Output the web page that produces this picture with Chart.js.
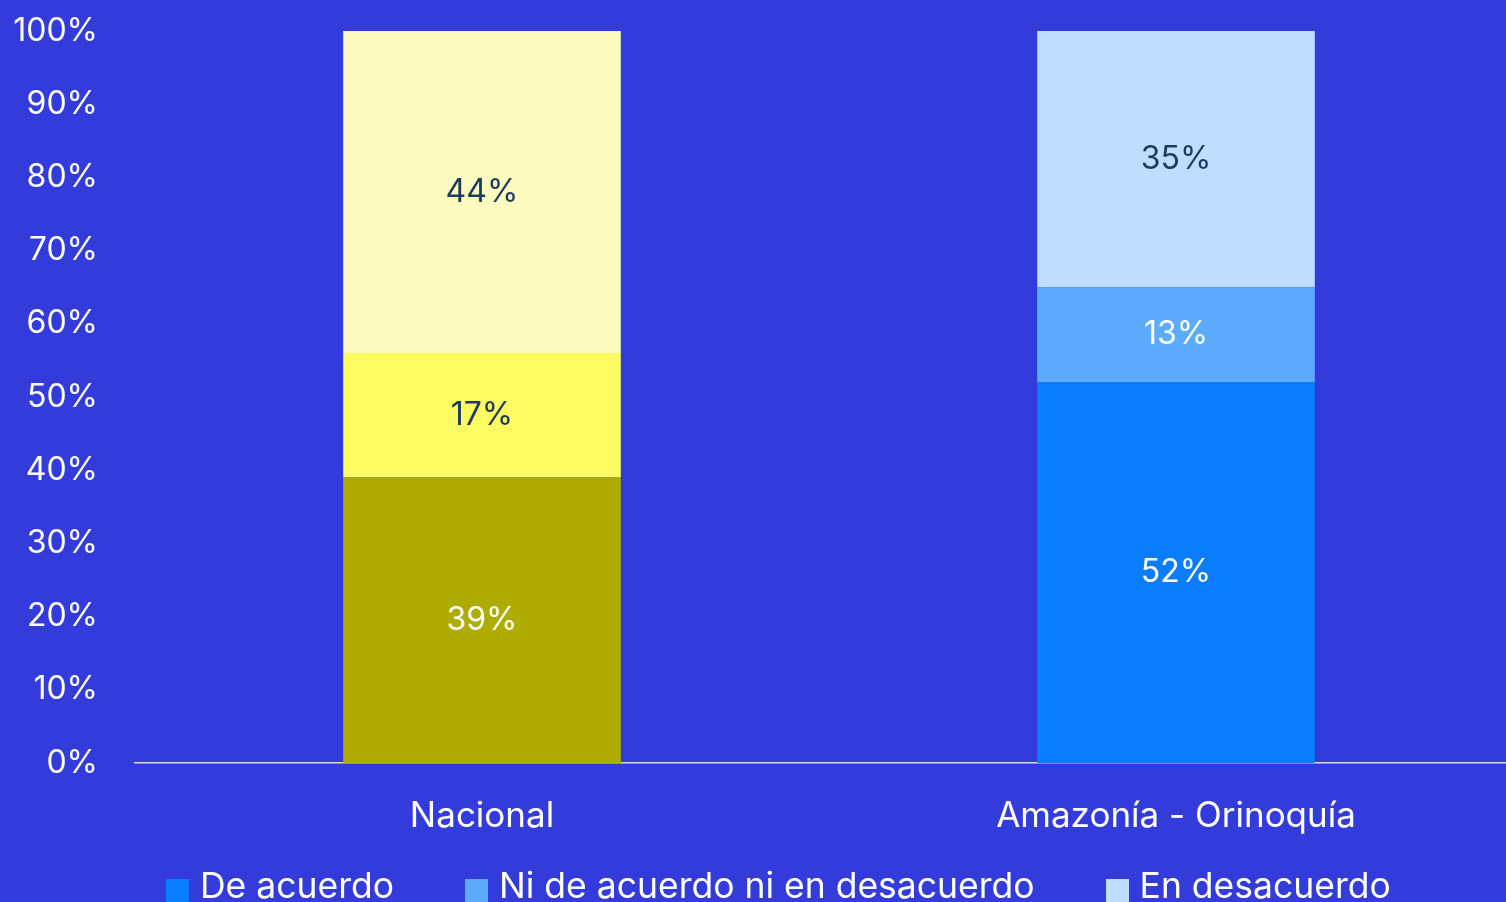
<!DOCTYPE html>
<html>
<head>
<meta charset="utf-8">
<script src="https://cdn.jsdelivr.net/npm/chart.js@4/dist/chart.umd.min.js"></script>
<style>
  html, body { margin: 0; padding: 0; overflow: hidden; background: #333cdb; }
  .wrap { position: relative; width: 1506px; height: 902px; overflow: hidden; }
  canvas { display: block; }
  #legend {
    position: absolute; left: 166px; top: 868px;
    display: flex; gap: 71px;
    font: 35.5px Inter, "Open Sans", sans-serif; line-height: 36px; color: #fff;
    white-space: nowrap;
  }
  #legend .item { display: flex; align-items: flex-start; }
  #legend .box { width: 23px; height: 23px; margin: 11px 11px 0 0; }
</style>
</head>
<body>
<div class="wrap">
  <canvas id="chart" width="1523" height="902"></canvas>
  <div id="legend"></div>
</div>
<script>
const categories = ["Nacional", "Amazonía - Orinoquía"];
const seriesNames = ["De acuerdo", "Ni de acuerdo ni en desacuerdo", "En desacuerdo"];
const deAcuerdo = [39, 52];
const niNi = [17, 13];
const desacuerdo = [44, 35];

// each region has its own palette, the legend follows the blue one
const barColors = [
  ["#afac00", "#097cff"],
  ["#fdfb62", "#5dabff"],
  ["#fdfbc0", "#bfddff"]
];
const labelColors = [
  ["#ffffff", "#ffffff"],
  ["#1e3a5f", "#ffffff"],
  ["#1e3a5f", "#1e3a5f"]
];

const FONT = "Inter, 'Open Sans', sans-serif";

const barLabels = {
  id: "barLabels",
  afterDatasetsDraw(chart) {
    const ctx = chart.ctx;
    ctx.save();
    ctx.font = "32px " + FONT;
    ctx.textAlign = "center";
    ctx.textBaseline = "middle";
    chart.data.datasets.forEach((ds, i) => {
      chart.getDatasetMeta(i).data.forEach((bar, j) => {
        ctx.fillStyle = labelColors[i][j];
        ctx.fillText(ds.data[j] + "%", bar.x, (bar.y + bar.base) / 2);
      });
    });
    ctx.restore();
  }
};

// legend rendered as html so the item spacing can be set freely
const htmlLegend = {
  id: "htmlLegend",
  afterUpdate(chart) {
    const el = document.getElementById("legend");
    el.innerHTML = "";
    const items = chart.options.plugins.legend.labels.generateLabels(chart);
    items.forEach(item => {
      const row = document.createElement("div");
      row.className = "item";
      const box = document.createElement("span");
      box.className = "box";
      box.style.background = item.fillStyle;
      const text = document.createElement("span");
      text.textContent = item.text;
      row.appendChild(box);
      row.appendChild(text);
      el.appendChild(row);
    });
  }
};

new Chart(document.getElementById("chart"), {
  type: "bar",
  data: {
    labels: categories,
    datasets: [deAcuerdo, niNi, desacuerdo].map((values, i) => ({
      label: seriesNames[i],
      data: values,
      backgroundColor: barColors[i],
      borderWidth: 0,
      barPercentage: 0.4,
      categoryPercentage: 1
    }))
  },
  options: {
    responsive: false,
    animation: false,
    layout: { padding: { top: 31, left: 0, right: 0, bottom: 0 } },
    scales: {
      x: {
        stacked: true,
        grid: { display: false, drawTicks: false },
        border: { display: true, color: "#d9d9d9", width: 1.5 },
        ticks: { color: "#ffffff", padding: 32, font: { family: FONT, size: 35 } },
        afterFit(scale) { scale.height = 139; }
      },
      y: {
        stacked: true,
        min: 0,
        max: 100,
        // invisible tick marks push the labels away from the bars
        grid: { display: false, drawTicks: true, tickLength: 37 },
        border: { display: false },
        ticks: {
          stepSize: 10,
          color: "#ffffff",
          padding: 0,
          font: { family: FONT, size: 32 },
          callback: v => v + "%"
        },
        afterFit(scale) { scale.width = 135; }
      }
    },
    plugins: {
      tooltip: { enabled: false },
      legend: {
        display: false,
        labels: {
          generateLabels(chart) {
            return chart.data.datasets.map((ds, i) => ({
              text: ds.label,
              fillStyle: barColors[i][1],
              datasetIndex: i
            }));
          }
        }
      }
    }
  },
  plugins: [barLabels, htmlLegend]
});
</script>
</body>
</html>
